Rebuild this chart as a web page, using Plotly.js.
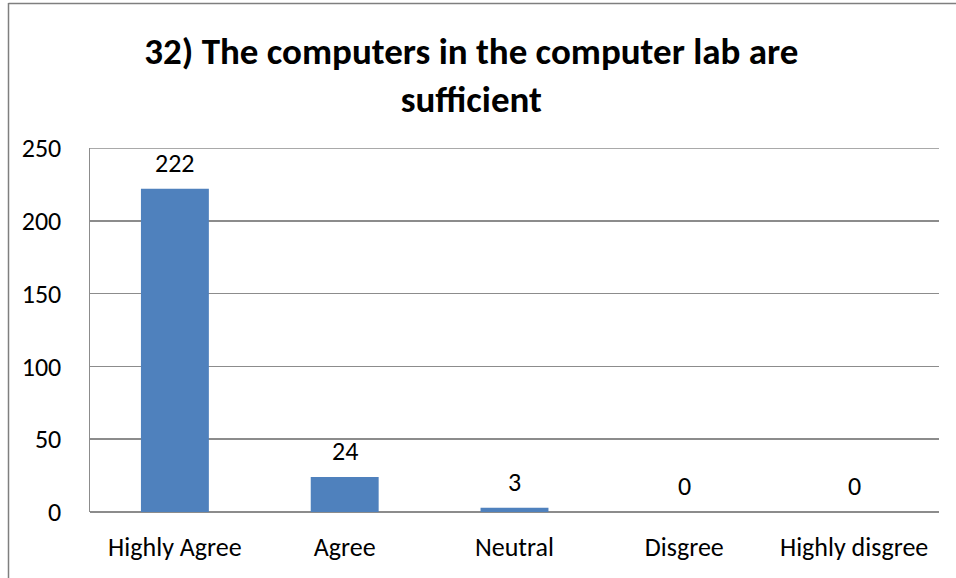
<!DOCTYPE html>
<html><head><meta charset="utf-8">
<script src="https://cdn.plot.ly/plotly-3.0.1.min.js"></script>
<style>html,body{margin:0;padding:0;background:#fff}#c{width:956px;height:578px}</style>
</head><body><div id="c"></div>
<script>
const categories = ["Highly Agree", "Agree", "Neutral", "Disgree", "Highly disgree"];
const counts = [222, 24, 3, 0, 0];
const yTicks = [0, 50, 100, 150, 200, 250];

const FONT = "Carlito, Calibri, 'Open Sans', 'Liberation Sans', sans-serif";
const L = 90, R = 939, T = 148, B = 512, W = 956, H = 578;
const px = x => (x - L) / (R - L);
const py = y => (B - y) / (B - T);
const GRID = '#8c8c8c';

Plotly.newPlot('c', [{
  type: 'bar',
  x: categories,
  y: counts,
  marker: {color: '#4F81BD'},
  width: 0.4,
  hoverinfo: 'skip'
}], {
  width: W, height: H,
  margin: {l: L, r: W - R, t: T, b: H - B},
  paper_bgcolor: '#fff', plot_bgcolor: '#fff',
  title: {
    text: '<b>32) The computers in the computer lab are<br>sufficient</b>',
    font: {family: FONT, size: 37, color: '#000'},
    xref: 'container', x: 0.493, xanchor: 'center',
    yref: 'container', y: 1 - 64/578, yanchor: 'top'
  },
  xaxis: {
    type: 'category',
    tickfont: {family: FONT, size: 26, color: '#000'},
    showline: false, ticks: '', showgrid: false,
    ticklabelstandoff: 17,
    fixedrange: true
  },
  yaxis: {
    range: [0, 250],
    tickvals: yTicks,
    tickfont: {family: FONT, size: 26, color: '#000'},
    showgrid: true, gridcolor: GRID, gridwidth: 1.5,
    showline: true, linecolor: GRID, linewidth: 1.5,
    zeroline: true, zerolinecolor: GRID, zerolinewidth: 1.5,
    ticks: '', ticklabelstandoff: 22,
    fixedrange: true
  },
  annotations: categories.map((c, i) => ({
    x: c, y: counts[i], xref: 'x', yref: 'y',
    text: String(counts[i]), showarrow: false,
    yanchor: 'bottom', yshift: 8,
    font: {family: FONT, size: 26, color: '#000'}
  })),
  shapes: [
    {type: 'line', xref: 'paper', yref: 'y', x0: 0, x1: 1, y0: 250, y1: 250, line: {color: GRID, width: 1.5}},
    {type: 'line', xref: 'paper', yref: 'paper', x0: px(8.5), x1: px(8.5), y0: py(3), y1: py(H + 2), line: {color: '#7f7f7f', width: 1.5}},
    {type: 'line', xref: 'paper', yref: 'paper', x0: px(8.5), x1: px(W + 2), y0: py(3.5), y1: py(3.5), line: {color: '#7f7f7f', width: 1.5}}
  ],
  showlegend: false
}, {displayModeBar: false, staticPlot: true});
</script></body></html>
